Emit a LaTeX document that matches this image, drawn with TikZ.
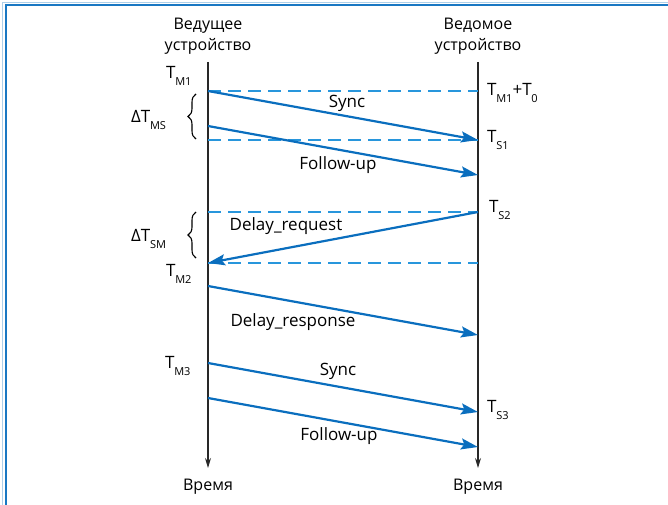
\documentclass[tikz,border=0pt]{standalone}
\usepackage{fontspec}
\setmainfont{Open Sans}
\usetikzlibrary{arrows.meta,decorations.pathreplacing}
\definecolor{msgblue}{RGB}{10,110,190}
\definecolor{dashblue}{RGB}{40,150,220}
\definecolor{frameblue}{RGB}{25,120,195}
\definecolor{lifegray}{RGB}{40,40,40}
\newcommand{\tsb}[2]{#1\kern-0.3pt\raisebox{-0.7ex}{\fontsize{11}{11}\selectfont #2}}
\tikzset{
  lbl/.style={font=\fontsize{16}{21}\selectfont, inner sep=0pt, align=center},
  mlbl/.style={font=\fontsize{17}{21}\selectfont, inner sep=0pt},
  tlbl/.style={font=\fontsize{17}{21}\selectfont, inner sep=0pt, anchor=west},
  msg/.style={draw=msgblue, line width=2.2pt, -{Stealth[length=17pt,width=11pt,inset=3pt]}},
  refline/.style={draw=dashblue, line width=1.3pt, dash pattern=on 13pt off 7pt},
  life/.style={draw=lifegray, line width=1.1pt, -{Stealth[length=10pt,width=6pt]}},
  brc/.style={draw=black, decorate, decoration={brace, amplitude=8pt}, line width=1.1pt},
}
\begin{document}
\begin{tikzpicture}[x=1pt,y=-1pt]
\useasboundingbox (0,0) rectangle (668,505);
% frame
\draw[frameblue!35, line width=1pt] (2.5,505) -- (2.5,2.5) -- (668,2.5);
\draw[frameblue, line width=2pt] (5.5,505) -- (5.5,5.5) -- (668,5.5);
% titles
\node[lbl] (mtitle) at (208,36) {Ведущее\\устройство};
\node[lbl] (stitle) at (478,36) {Ведомое\\устройство};
% lifelines
\coordinate (mtop) at (208,62);
\coordinate (mbot) at (208,468);
\coordinate (stop) at (478,62);
\coordinate (sbot) at (478,468);
\draw[life] (mtop) -- (mbot);
\draw[life] (stop) -- (sbot);
\node[lbl] (mtime) at (208,487) {Время};
\node[lbl] (stime) at (478,487) {Время};
% event points
\coordinate (m1) at (208,91);
\coordinate (s0) at (478,91);
\coordinate (s1) at (478,140);
\coordinate (m1b) at (208,140);
\coordinate (mf1) at (208,126);
\coordinate (sf1) at (478,175);
\coordinate (s2) at (478,212);
\coordinate (m2a) at (208,212);
\coordinate (m2) at (208,263);
\coordinate (s2b) at (478,263);
\coordinate (mr) at (208,286);
\coordinate (sr) at (478,335);
\coordinate (m3) at (208,363);
\coordinate (s3) at (478,412);
\coordinate (mf3) at (208,398);
\coordinate (sf3) at (478,447);
% dashed reference lines
\draw[refline] (m1) -- (s0);
\draw[refline] (m1b) -- (s1);
\draw[refline] (m2a) -- (s2);
\draw[refline] (m2) -- (s2b);
% messages
\draw[msg] (m1) -- (s1);
\draw[msg] (mf1) -- (sf1);
\draw[msg] (s2) -- (m2);
\draw[msg] (mr) -- (sr);
\draw[msg] (m3) -- (s3);
\draw[msg] (mf3) -- (sf3);
% message labels
\node[mlbl] (lsync1) at (347,103) {Sync};
\node[mlbl] (lfol1) at (338,165) {Follow-up};
\node[mlbl] (ldreq) at (286,226) {Delay\_request};
\node[mlbl] (ldres) at (293,322) {Delay\_response};
\node[mlbl] (lsync2) at (338,371) {Sync};
\node[mlbl] (lfol2) at (339,436) {Follow-up};
% time labels
\node[tlbl] (tm1) at (166,76) {\tsb{T}{M1}};
\node[tlbl] (tm2) at (166,274) {\tsb{T}{M2}};
\node[tlbl] (tm3) at (165,366) {\tsb{T}{M3}};
\node[tlbl] (tm1t0) at (487,93) {\tsb{T}{M1}+\tsb{T}{0}};
\node[tlbl] (ts1) at (487,140) {\tsb{T}{S1}};
\node[tlbl] (ts2) at (489,210) {\tsb{T}{S2}};
\node[tlbl] (ts3) at (487,410) {\tsb{T}{S3}};
% braces
\coordinate (b1top) at (196,94);
\coordinate (b1bot) at (196,139);
\coordinate (b2top) at (196,212);
\coordinate (b2bot) at (196,258);
\draw[brc] (b1bot) -- (b1top);
\draw[brc] (b2bot) -- (b2top);
\node[tlbl] (dtms) at (131,120) {Δ\tsb{T}{MS}};
\node[tlbl] (dtsm) at (131,239) {Δ\tsb{T}{SM}};
\end{tikzpicture}
\end{document}
